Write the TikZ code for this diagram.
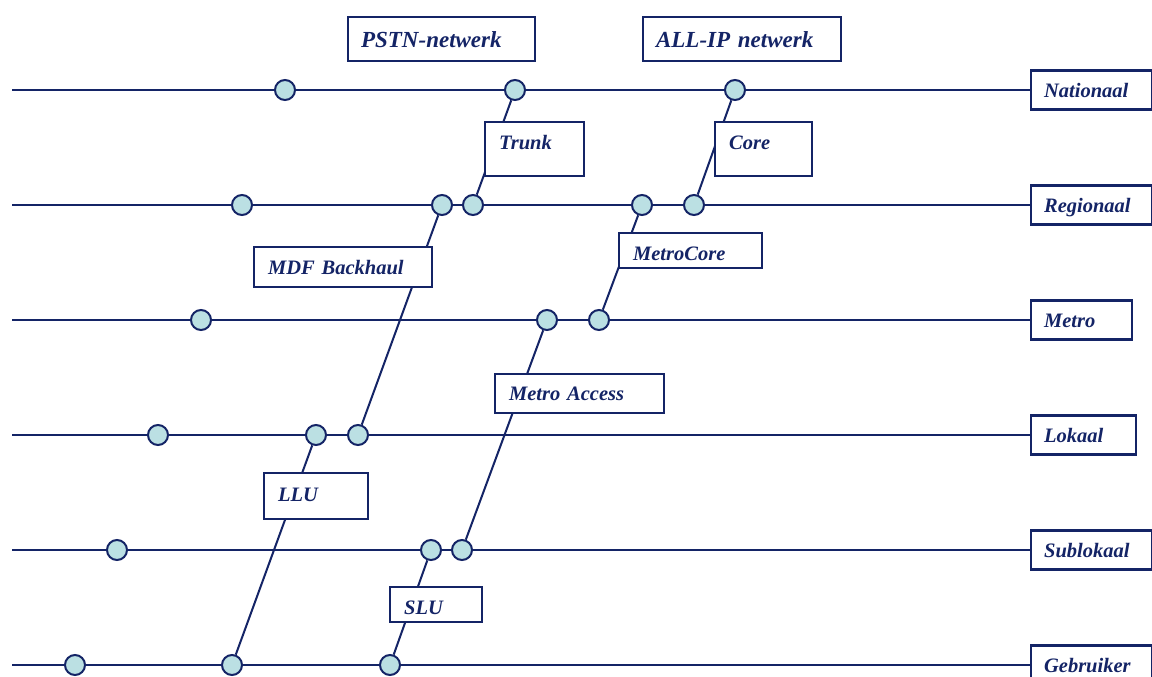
\documentclass[tikz,border=0pt]{standalone}
\usepackage{fontspec}
\setmainfont{Liberation Serif}
\usetikzlibrary{backgrounds}
\definecolor{navy}{RGB}{20,36,102}
\definecolor{hubfill}{RGB}{187,224,227}
\begin{document}
\begin{tikzpicture}[x=1pt,y=-1pt,
  hub/.style={circle, draw=navy, fill=hubfill, line width=2pt, minimum size=20pt, inner sep=0pt},
  wire/.style={draw=navy, line width=2pt},
  labelfont/.style={text=navy, font=\fontsize{20.5}{24}\selectfont\bfseries\itshape},
  tag/.style={draw=navy, fill=white, line width=2.2pt, inner xsep=14pt, inner ysep=0pt,
    align=left, anchor=north west, labelfont},
  lvl/.style={draw=navy, fill=white, line width=2.2pt, inner xsep=13pt, inner ysep=0pt,
    minimum height=39pt, text height=15pt, text depth=1pt, anchor=west, align=left, labelfont},
  title/.style={tag, inner xsep=13pt, font=\fontsize{23}{27}\selectfont\bfseries\itshape}]
\useasboundingbox (0,0) rectangle (1152,677);

% level boxes on the right
\node[lvl, text width=95pt] (Nat) at (1030,90)  {Nationaal};
\node[lvl, text width=95pt] (Reg) at (1030,205) {Regionaal};
\node[lvl, text width=75pt] (Met) at (1030,320) {Metro};
\node[lvl, text width=79pt] (Lok) at (1030,435) {Lokaal};
\node[lvl, text width=95pt] (Sub) at (1030,550) {Sublokaal};
\node[lvl, text width=95pt] (Geb) at (1030,665) {Gebruiker};

% left ends of the level lines
\coordinate (Nat0) at (12,90);
\coordinate (Reg0) at (12,205);
\coordinate (Met0) at (12,320);
\coordinate (Lok0) at (12,435);
\coordinate (Sub0) at (12,550);
\coordinate (Geb0) at (12,665);

% network titles
\node[title, text width=161pt, text height=30pt, text depth=14pt] (pstn) at (347,16) {PSTN-netwerk};
\node[title, text width=172pt, text height=30pt, text depth=14pt] (allip) at (642,16) {ALL-IP netwerk};

% link labels
\node[tag, text width=71pt,  text height=27pt, text depth=27pt] (trunk) at (484,121) {Trunk};
\node[tag, text width=69pt,  text height=27pt, text depth=27pt] (core) at (714,121) {Core};
\node[tag, text width=115pt, text height=27pt, text depth=8pt]  (metrocore) at (618,232) {MetroCore};
\node[tag, text width=150pt, text height=27pt, text depth=13pt] (mdf) at (253,246) {MDF Backhaul};
\node[tag, text width=141pt, text height=26pt, text depth=13pt] (maccess) at (494,373) {Metro Access};
\node[tag, text width=76pt,  text height=28pt, text depth=18pt] (llu) at (263,472) {LLU};
\node[tag, text width=64pt,  text height=27pt, text depth=8pt]  (slu) at (389,586) {SLU};

% hubs on each level
\node[hub] (n1) at (285,90) {};
\node[hub] (n2) at (515,90) {};
\node[hub] (n3) at (735,90) {};
\node[hub] (r1) at (242,205) {};
\node[hub] (r2) at (442,205) {};
\node[hub] (r3) at (473,205) {};
\node[hub] (r4) at (642,205) {};
\node[hub] (r5) at (694,205) {};
\node[hub] (m1) at (201,320) {};
\node[hub] (m2) at (547,320) {};
\node[hub] (m3) at (599,320) {};
\node[hub] (l1) at (158,435) {};
\node[hub] (l2) at (316,435) {};
\node[hub] (l3) at (358,435) {};
\node[hub] (s1) at (117,550) {};
\node[hub] (s2) at (431,550) {};
\node[hub] (s3) at (462,550) {};
\node[hub] (g1) at (75,665) {};
\node[hub] (g2) at (232,665) {};
\node[hub] (g3) at (390,665) {};

\begin{scope}[on background layer]
  \fill[white] (0,0) rectangle (1152,677);
  % level lines
  \draw[wire] (Nat0) -- (Nat.west);
  \draw[wire] (Reg0) -- (Reg.west);
  \draw[wire] (Met0) -- (Met.west);
  \draw[wire] (Lok0) -- (Lok.west);
  \draw[wire] (Sub0) -- (Sub.west);
  \draw[wire] (Geb0) -- (Geb.west);
  % links between levels
  \draw[wire] (n2) -- (r3);
  \draw[wire] (n3) -- (r5);
  \draw[wire] (r2) -- (l3);
  \draw[wire] (r4) -- (m3);
  \draw[wire] (m2) -- (s3);
  \draw[wire] (l2) -- (g2);
  \draw[wire] (s2) -- (g3);
\end{scope}
\end{tikzpicture}
\end{document}
